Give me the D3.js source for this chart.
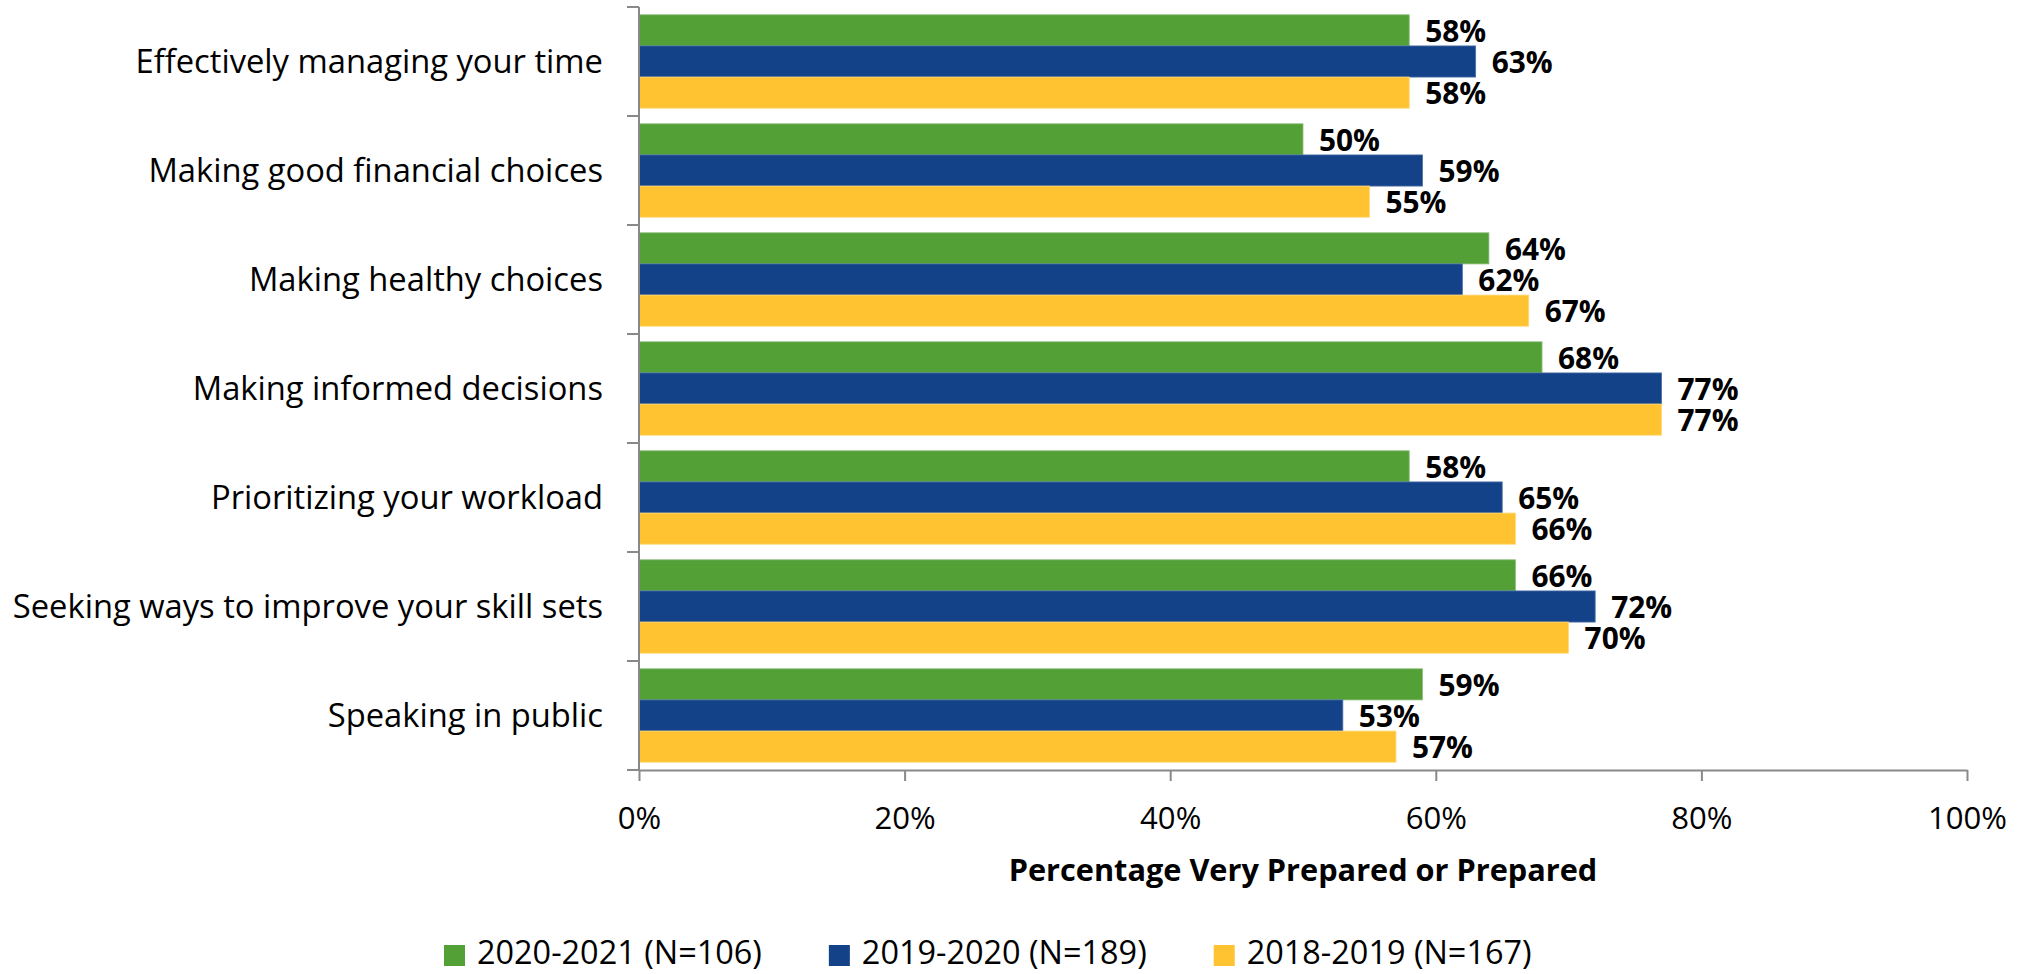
<!DOCTYPE html>
<html>
<head>
<meta charset="utf-8">
<script src="https://cdn.jsdelivr.net/npm/d3@7"></script>
<style>
  html, body { margin: 0; padding: 0; background: #ffffff; }
  svg { display: block; }
</style>
</head>
<body>
<svg id="chart" width="2028" height="974"></svg>
<script>
const categories = [
  "Effectively managing your time",
  "Making good financial choices",
  "Making healthy choices",
  "Making informed decisions",
  "Prioritizing your workload",
  "Seeking ways to improve your skill sets",
  "Speaking in public"
];
const seriesNames = ["2020-2021 (N=106)", "2019-2020 (N=189)", "2018-2019 (N=167)"];
const values2020_2021 = [58, 50, 64, 68, 58, 66, 59];
const values2019_2020 = [63, 59, 62, 77, 65, 72, 53];
const values2018_2019 = [58, 55, 67, 77, 66, 70, 57];
const xTickValues = [0, 20, 40, 60, 80, 100];
const axisTitle = "Percentage Very Prepared or Prepared";
const seriesColors = ["#53A037", "#134288", "#FFC331"];
const seriesStrokes = ["#8fbf7c", "#4d6fa6", "#ffd97a"];

const seriesValues = [values2020_2021, values2019_2020, values2018_2019];

const W = 2028, H = 974;
const plot = { left: 639, right: 1967, top: 7, bottom: 770 };
const FONT = "'Open Sans', 'Noto Sans', sans-serif";
const CAP = 0.714;

const svg = d3.select("#chart");

// text measurement helper to fit Calibri-like widths
function measure(text, weight) {
  const t = svg.append("text").attr("x", -9999).attr("y", -9999)
    .style("font-family", FONT).style("font-weight", weight).style("font-size", "100px").text(text);
  const w = t.node().getComputedTextLength();
  t.remove();
  return w;
}
function fitSize(text, weight, targetWidth) {
  return targetWidth / measure(text, weight) * 100;
}

const catSize = (fitSize("Effectively managing your time", 400, 468) + fitSize("Seeking ways to improve your skill sets", 400, 590)) / 2;
const tickSize = fitSize("100%", 400, 79);
const valSize = fitSize("58%", 700, 61);
const titleSize = fitSize(axisTitle, 700, 589);
const legendSize = fitSize(seriesNames[0], 400, 285);

const x = d3.scaleLinear().domain([0, 100]).range([plot.left, plot.right]);
const y = d3.scaleBand().domain(categories).range([plot.top, plot.bottom]).paddingInner(0).paddingOuter(0);
const ySub = d3.scaleBand().domain(d3.range(seriesNames.length)).range([0, y.bandwidth()]).paddingInner(0).paddingOuter(0.25);

// bars
const groups = svg.append("g").selectAll("g").data(categories).join("g")
  .attr("transform", d => `translate(0,${y(d)})`);

groups.each(function(cat, ci) {
  const g = d3.select(this);
  seriesValues.forEach((vals, si) => {
    const v = vals[ci];
    g.append("rect")
      .attr("x", x(0))
      .attr("y", ySub(si))
      .attr("width", x(v) - x(0))
      .attr("height", ySub.bandwidth())
      .attr("fill", seriesColors[si])
      .attr("stroke", seriesStrokes[si])
      .attr("stroke-width", 0.8);
    g.append("text")
      .attr("x", x(v) + 16)
      .attr("y", ySub(si) + ySub.bandwidth() / 2 + CAP * valSize / 2 + 1)
      .style("font-family", FONT)
      .style("font-weight", 700)
      .style("font-size", valSize + "px")
      .attr("fill", "#000")
      .text(v + "%");
  });
});

// left axis (category boundaries)
const axisColor = "#898989";
const boundaries = categories.map(c => y(c)).concat([y(categories[categories.length - 1]) + y.bandwidth()]);
const leftAxis = svg.append("g");
leftAxis.append("line")
  .attr("x1", x(0)).attr("x2", x(0))
  .attr("y1", plot.top).attr("y2", plot.bottom)
  .attr("stroke", axisColor).attr("stroke-width", 2);
leftAxis.selectAll("line.tick").data(boundaries).join("line")
  .attr("class", "tick")
  .attr("x1", x(0) - 12).attr("x2", x(0))
  .attr("y1", d => d).attr("y2", d => d)
  .attr("stroke", axisColor).attr("stroke-width", 2);

// category labels
svg.append("g").selectAll("text").data(categories).join("text")
  .attr("x", 603)
  .attr("y", d => y(d) + y.bandwidth() / 2 + CAP * catSize / 2)
  .attr("text-anchor", "end")
  .style("font-family", FONT)
  .style("font-size", catSize + "px")
  .attr("fill", "#000")
  .text(d => d);

// bottom axis
const bottomAxis = svg.append("g")
  .attr("transform", `translate(0,${plot.bottom})`)
  .call(d3.axisBottom(x).tickValues(xTickValues).tickSize(11).tickSizeOuter(0).tickFormat(d => d + "%"));
bottomAxis.select(".domain").attr("stroke", axisColor).attr("stroke-width", 2);
bottomAxis.selectAll(".tick line").attr("stroke", axisColor).attr("stroke-width", 2);
bottomAxis.selectAll(".tick text")
  .attr("y", 59).attr("dy", 0)
  .attr("fill", "#000")
  .style("font-family", FONT)
  .style("font-size", tickSize + "px");

// axis title
svg.append("text")
  .attr("x", (plot.left + plot.right) / 2)
  .attr("y", 881)
  .attr("text-anchor", "middle")
  .style("font-family", FONT)
  .style("font-weight", 700)
  .style("font-size", titleSize + "px")
  .attr("fill", "#000")
  .text(axisTitle);

// legend
const legend = svg.append("g");
let lx = 444;
seriesNames.forEach((name, i) => {
  legend.append("rect")
    .attr("x", lx).attr("y", 945).attr("width", 21).attr("height", 21)
    .attr("fill", seriesColors[i]);
  const t = legend.append("text")
    .attr("x", lx + 33).attr("y", 964)
    .style("font-family", FONT)
    .style("font-size", legendSize + "px")
    .attr("fill", "#000")
    .text(name);
  lx += 33 + t.node().getComputedTextLength() + 67;
});
</script>
</body>
</html>
